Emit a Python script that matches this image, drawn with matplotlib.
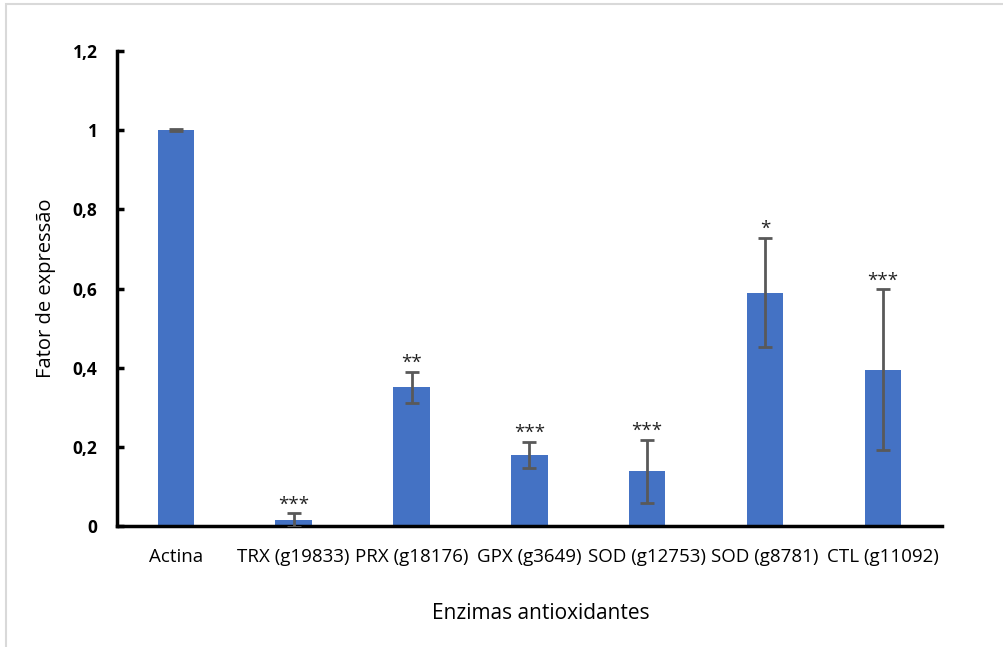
import matplotlib
matplotlib.use('Agg')
import matplotlib.pyplot as plt
from matplotlib.patches import Rectangle

# Data
categorias = ['Actina', 'TRX (g19833)', 'PRX (g18176)', 'GPX (g3649)',
              'SOD (g12753)', 'SOD (g8781)', 'CTL (g11092)']
valores = [1.0, 0.015, 0.35, 0.18, 0.138, 0.59, 0.395]
erros = [0.002, 0.017, 0.04, 0.033, 0.08, 0.138, 0.203]
significancia = ['', '***', '**', '***', '***', '*', '***']
yticks = [0, 0.2, 0.4, 0.6, 0.8, 1.0, 1.2]
ytick_labels = ['0', '0,2', '0,4', '0,6', '0,8', '1', '1,2']

plt.rcParams['font.family'] = ['Open Sans', 'DejaVu Sans']

fig = plt.figure(figsize=(10.04, 6.47), dpi=100)
ax = fig.add_axes([0.1165, 0.187, 0.8215, 0.734])

# light frame around the chart area (cropped at right/bottom)
fig.patches.append(Rectangle((6 / 1004, -0.05), 1.2, 1 - 4 / 647 + 0.05,
                             transform=fig.transFigure, fill=False,
                             edgecolor='#d9d9d9', lw=1.5))

xs = list(range(len(categorias)))
ax.bar(xs, valores, width=0.31, color='#4472C4', zorder=2)
ax.errorbar(xs, valores, yerr=erros, fmt='none', ecolor='#595959',
            elinewidth=2, capsize=5, capthick=2, zorder=3)

for x, v, e, s in zip(xs, valores, erros, significancia):
    if s:
        ax.annotate(s, (x, v + e), xytext=(0, 0), textcoords='offset points',
                    ha='center', va='bottom', fontsize=13.5, color='#222222')

ax.set_xlim(-0.5, len(categorias) - 0.5)
ax.set_ylim(0, 1.2)
ax.set_xticks(xs)
ax.set_xticklabels(categorias, fontsize=13.5)
ax.set_yticks(yticks)
ax.set_yticklabels(ytick_labels, fontsize=12.5, fontweight='bold')

for side in ['top', 'right']:
    ax.spines[side].set_visible(False)
for side in ['left', 'bottom']:
    ax.spines[side].set_linewidth(2.5)
    ax.spines[side].set_color('black')
ax.tick_params(axis='y', direction='in', length=5, width=2.5, pad=14)
ax.tick_params(axis='x', length=0, pad=16)

ax.set_xlabel('Enzimas antioxidantes', fontsize=15)
ax.xaxis.set_label_coords(0.514, -0.163)
ax.set_ylabel('Fator de expressão', fontsize=14.5, labelpad=12)

fig.savefig('out.png', dpi=100)
